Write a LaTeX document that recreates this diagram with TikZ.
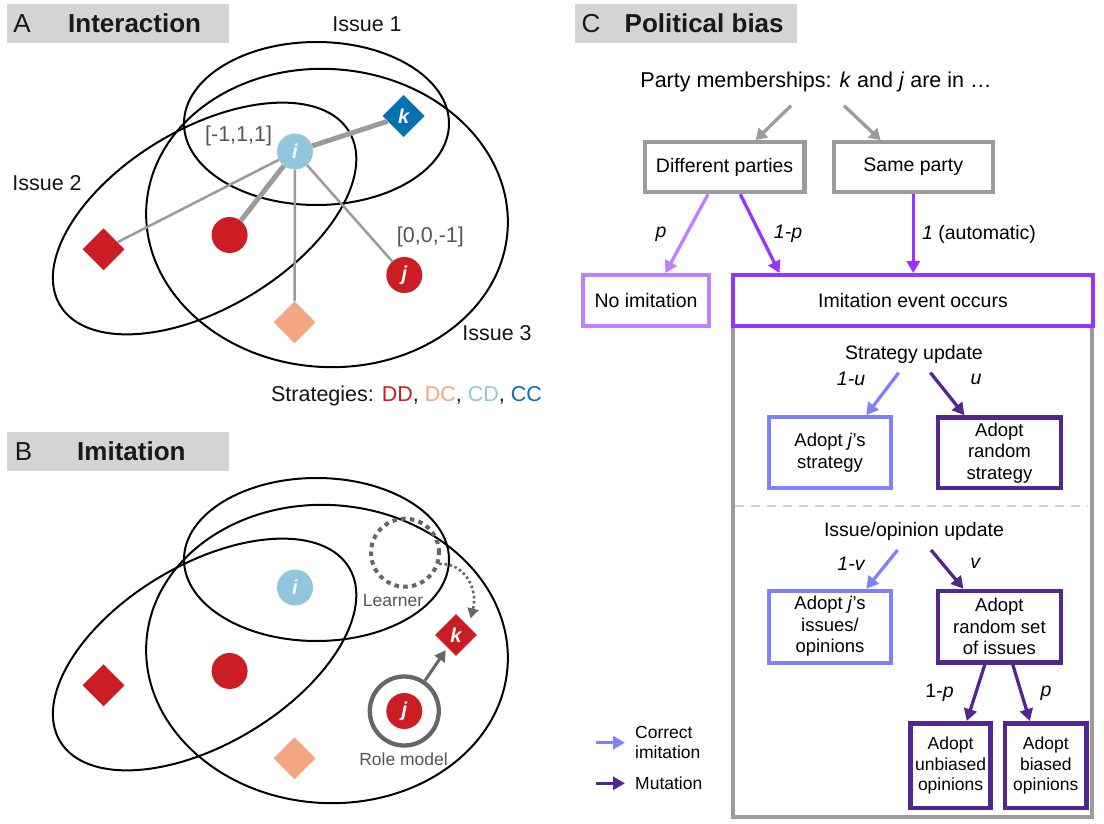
\documentclass[tikz,border=0pt]{standalone}
\usepackage{fontspec}
\setmainfont{Liberation Sans}
\usetikzlibrary{arrows.meta,shapes.geometric,calc}
\definecolor{cDD}{RGB}{202,30,36}
\definecolor{cDC}{RGB}{244,165,130}
\definecolor{cCD}{RGB}{146,197,222}
\definecolor{cCC}{RGB}{5,113,176}
\definecolor{hdr}{RGB}{212,212,212}
\definecolor{linegray}{RGB}{155,155,155}
\definecolor{boxgray}{RGB}{155,155,155}
\definecolor{dkgray}{RGB}{102,102,102}
\definecolor{txtgray}{RGB}{85,85,85}
\definecolor{lpurple}{RGB}{191,128,255}
\definecolor{mpurple}{RGB}{153,51,255}
\definecolor{lblue}{RGB}{128,128,255}
\definecolor{dpurple}{RGB}{84,39,143}
\definecolor{dashgray}{RGB}{210,210,210}
\newcommand{\szHdr}{\fontsize{26pt}{30pt}\selectfont}
\newcommand{\szA}{\fontsize{21.5pt}{25pt}\selectfont}
\newcommand{\szC}{\fontsize{19.5pt}{23pt}\selectfont}
\newcommand{\szBox}{\fontsize{18.5pt}{21.5pt}\selectfont}
\newcommand{\szSm}{\fontsize{17.5pt}{20.5pt}\selectfont}
\newcommand{\szLet}{\fontsize{20pt}{20pt}\selectfont}
\tikzset{
  hdrbox/.style={fill=hdr, draw=none, inner sep=0},
  hdrtxt/.style={font=\szHdr, inner sep=0, text=black!90},
  ell/.style={draw=black, line width=2pt},
  agent/.style={circle, minimum size=36pt, inner sep=0, font=\szLet\bfseries\itshape, text=white},
  diam/.style={diamond, minimum width=42pt, minimum height=42pt, inner sep=0, font=\szLet\bfseries\itshape, text=white},
  thickln/.style={draw=linegray, line width=5pt},
  thinln/.style={draw=linegray, line width=2.5pt},
  alab/.style={font=\szA, text=black!92},
  vlab/.style={font=\szA, text=txtgray},
  blab/.style={font=\szSm, text=txtgray},
  gbox/.style={draw=boxgray, line width=4.3pt, fill=white, font=\szC, inner sep=0},
  cbox/.style={line width=4pt, fill=white, font=\szBox, align=center, inner sep=0},
  sbox/.style={line width=4.5pt, fill=white, font=\szSm, align=center, inner sep=0},
  ctxt/.style={font=\szC},
  plab/.style={font=\szC\itshape},
  arr/.style={line width=3.3pt, -{Triangle[length=12pt,width=13pt]}},
  garr/.style={draw=linegray, line width=3.3pt, -{Triangle[length=11pt,width=13pt]}},
  barr/.style={draw=dkgray, line width=3pt, -{Triangle[length=11pt,width=12pt]}},
  dotarr/.style={draw=dkgray, line width=2.6pt, dash pattern=on 2.6pt off 2.6pt, -{Triangle[length=10pt,width=11pt]}},
}
\begin{document}
\begin{tikzpicture}[x=1pt,y=-1pt]
\useasboundingbox (0,0) rectangle (1104,824);

% ---------------- Panel A ----------------
\node[hdrbox, minimum width=222pt, minimum height=39pt] (hA) at (118,23.5) {};
\node[hdrtxt] (hAl) at (22,23.5) {A};
\node[hdrtxt, anchor=west, font=\szHdr\bfseries] (hAt) at (68,23.5) {Interaction};

\draw[ell] (316.5,123.5) ellipse (132.5pt and 81.5pt);
\draw[ell, rotate around={-4:(327,218)}] (327,218) ellipse (181pt and 149pt);
\draw[ell, rotate around={31:(204.6,218.5)}] (204.6,218.5) ellipse (168.6pt and 89.5pt);

\node[alab] (is1) at (367,24) {Issue 1};
\node[alab] (is2) at (47,183) {Issue 2};
\node[alab] (is3) at (497,333) {Issue 3};

\node[agent, fill=cCD] (iA) at (295,151.5) {i};
\node[diam, fill=cCC] (kA) at (403.6,116) {k};
\node[agent, fill=cDD] (rcA) at (229.6,235) {};
\node[agent, fill=cDD] (jA) at (404.3,275) {j};
\node[diam, fill=cDD] (ldA) at (103.6,249.3) {};
\node[diam, fill=cDC] (odA) at (294.6,322.3) {};

\draw[thickln] (iA) -- (kA);
\draw[thickln] (iA) -- (rcA);
\draw[thinln] (iA) -- (ldA);
\draw[thinln] (iA) -- (odA);
\draw[thinln] (iA) -- (jA);

\node[vlab] (vi) at (238.6,136) {[-1,1,1]};
\node[vlab] (vj) at (430.4,236.7) {[0,0,-1]};

\node[alab] (strat) at (406.5,396) {Strategies: \textcolor{cDD}{DD}, \textcolor{cDC}{DC}, \textcolor{cCD}{CD}, \textcolor{cCC}{CC}};

% ---------------- Panel B ----------------
\node[hdrbox, minimum width=222pt, minimum height=39pt] (hB) at (118,451.2) {};
\node[hdrtxt] (hBl) at (23.5,451.5) {B};
\node[hdrtxt, anchor=west, font=\szHdr\bfseries] (hBt) at (77,451.5) {Imitation};

\draw[ell] (316.5,559.5) ellipse (132.5pt and 81.5pt);
\draw[ell, rotate around={-4:(327,654)}] (327,654) ellipse (181pt and 149pt);
\draw[ell, rotate around={31:(204.6,654.5)}] (204.6,654.5) ellipse (168.6pt and 89.5pt);

\node[agent, fill=cCD] (iB) at (295,587.5) {i};
\node[agent, fill=cDD] (rcB) at (229.6,671) {};
\node[diam, fill=cDD] (ldB) at (103.6,685.3) {};
\node[diam, fill=cDC] (odB) at (294.6,758.3) {};
\node[diam, fill=cDD] (kB) at (456,635) {k};
\node[agent, fill=cDD] (jB) at (404.3,711) {j};

\node[circle, draw=dkgray, line width=4.3pt, minimum size=69pt, inner sep=0] (rm) at (404.3,711) {};
\node[circle, draw=dkgray, line width=4pt, dash pattern=on 4.5pt off 4.3pt, minimum size=68pt, inner sep=0] (lc) at (405,552.7) {};

\node[blab] (lrn) at (393,600.7) {Learner};
\node[blab] (rml) at (403.6,759) {Role model};

\draw[barr, shorten >=3pt] (rm) -- (kB);
\coordinate (dtip) at ($(kB.north east)+(4,-6)$);
\draw[dotarr] (lc.-18) .. controls (466,563) and (478,590) .. (dtip);

% ---------------- Panel C ----------------
\node[hdrbox, minimum width=221.5pt, minimum height=39pt] (hC) at (685.75,23.5) {};
\node[hdrtxt] (hCl) at (591,23.5) {C};
\node[hdrtxt, anchor=west, font=\szHdr\bfseries] (hCt) at (624.5,23.5) {Political bias};

\node[font=\szA] (party) at (816,81.7) {Party memberships: \textit{k} and \textit{j} are in …};

\node[gbox, minimum width=159.7pt, minimum height=49.8pt] (diff) at (724.6,167.2) {Different parties};
\node[gbox, minimum width=158.9pt, minimum height=49.8pt] (same) at (913.3,167.2) {Same party};

\draw[garr] ([shift={(-25,24)}]party.center) -- ([xshift=31pt]diff.north);
\draw[garr] ([shift={(28,24)}]party.center) -- ([xshift=-32.7pt]same.north);

\node[draw=boxgray, line width=4pt, minimum width=359pt, minimum height=491pt, inner sep=0] (pbox) at (912.5,571.5) {};

\node[gbox, draw=lpurple, minimum width=125.5pt, minimum height=50.5pt] (noim) at (646,300.5) {No imitation};
\node[gbox, draw=mpurple, minimum width=359.5pt, minimum height=50.5pt] (imit) at (913,300.5) {Imitation event occurs};

\draw[arr, draw=lpurple, fill=lpurple] ([xshift=-16.6pt]diff.south) -- ([xshift=19.4pt]noim.north);
\draw[arr, draw=mpurple, fill=mpurple] ([xshift=15.7pt]diff.south) -- ([xshift=-133.5pt]imit.north);
\draw[arr, draw=mpurple, fill=mpurple] (same.south) -- (same.south |- imit.north);

\node[plab] (lp) at (661,234.3) {p};
\node[plab] (l1p) at (788,234.3) {1-p};
\node[ctxt] (lauto) at (979,234.3) {\textit{1} (automatic)};

\node[ctxt] (su) at (914,354) {Strategy update};
\node[cbox, draw=lblue, minimum width=122.6pt, minimum height=71.2pt] (adj) at (830,452.8) {Adopt \textit{j}’s\\strategy};
\node[cbox, draw=dpurple, line width=4.5pt, minimum width=122.7pt, minimum height=70.7pt] (adr) at (999.4,452.8) {Adopt\\random\\strategy};
\draw[arr, draw=lblue, fill=lblue] ([shift={(-15.3,18.7)}]su.center) -- ([xshift=36.3pt]adj.north);
\draw[arr, draw=dpurple, fill=dpurple] ([shift={(16.4,18.7)}]su.center) -- ([xshift=-35pt]adr.north);
\node[plab] (l1u) at (851,379.3) {1-u};
\node[plab] (lu) at (976,379.3) {u};

\draw[draw=dashgray, line width=2pt, dash pattern=on 9.5pt off 6.5pt] (734.5,505.7) -- (1087.7,505.7);

\node[ctxt] (iu) at (914,531.7) {Issue/opinion update};
\node[cbox, draw=lblue, minimum width=122.6pt, minimum height=72pt] (aji) at (830,626.7) {Adopt \textit{j}’s\\issues/\\opinions};
\node[cbox, draw=dpurple, line width=4.5pt, minimum width=122.7pt, minimum height=71.5pt] (ars) at (999.4,626.7) {Adopt\\random set\\of issues};
\draw[arr, draw=lblue, fill=lblue] ([shift={(-16.4,18.3)}]iu.center) -- ([xshift=36.3pt]aji.north);
\draw[arr, draw=dpurple, fill=dpurple] ([shift={(17,18.3)}]iu.center) -- ([xshift=-36pt]ars.north);
\node[plab] (l1v) at (851,563.3) {1-v};
\node[plab] (lv) at (975.3,563.3) {v};

\node[sbox, draw=dpurple, minimum width=80pt, minimum height=84.5pt] (unb) at (950.6,765.5) {Adopt\\unbiased\\opinions};
\node[sbox, draw=dpurple, minimum width=81.4pt, minimum height=84.5pt] (bia) at (1045.8,765.5) {Adopt\\biased\\opinions};
\draw[arr, draw=dpurple, fill=dpurple] ([xshift=-14.6pt]ars.south) -- ([xshift=16.2pt]unb.north);
\draw[arr, draw=dpurple, fill=dpurple] ([xshift=13.4pt]ars.south) -- ([xshift=-16pt]bia.north);
\node[ctxt] (l1p2) at (939.5,693.3) {1-\textit{p}};
\node[plab] (lp2) at (1046,693.3) {p};

% legend
\coordinate (lg1a) at (596,742.7);
\coordinate (lg1b) at (625,742.7);
\coordinate (lg2a) at (596,783.3);
\coordinate (lg2b) at (625,783.3);
\draw[arr, draw=lblue, fill=lblue] (lg1a) -- (lg1b);
\draw[arr, draw=dpurple, fill=dpurple] (lg2a) -- (lg2b);
\node[font=\szSm, align=left, anchor=west, inner sep=0] (lgt1) at (635,742.5) {Correct\\imitation};
\node[font=\szSm, anchor=west, inner sep=0] (lgt2) at (635,783.3) {Mutation};
\end{tikzpicture}
\end{document}
